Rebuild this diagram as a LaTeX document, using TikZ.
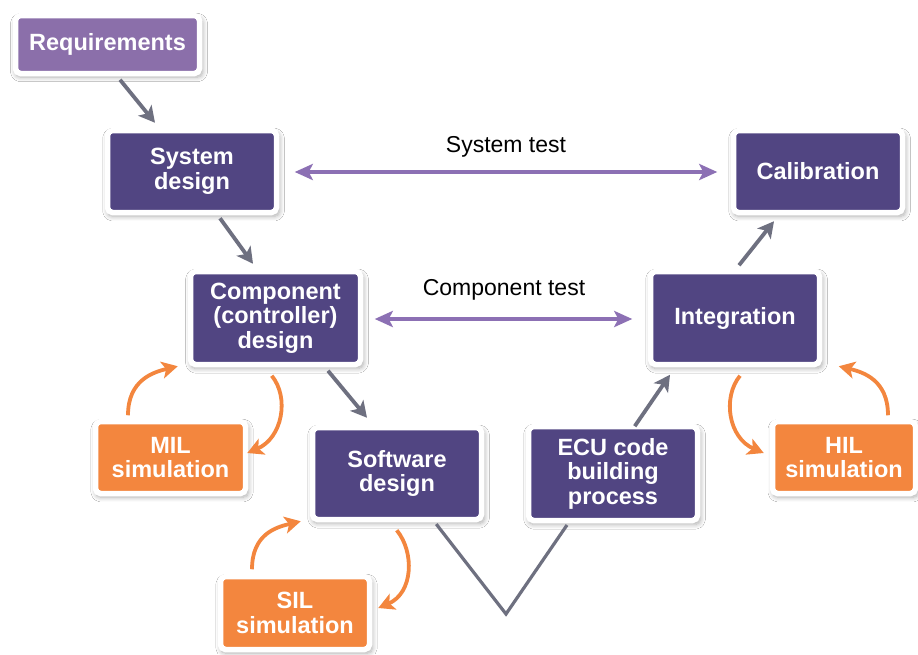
\documentclass[tikz,border=0pt]{standalone}
\usepackage{fontspec}
\setmainfont{Liberation Sans}
\usetikzlibrary{arrows.meta,calc,shadows.blur}
\definecolor{darkp}{RGB}{81,69,130}
\definecolor{lightp}{RGB}{139,111,170}
\definecolor{orng}{RGB}{243,134,62}
\definecolor{grayarr}{RGB}{110,112,128}
\definecolor{testp}{RGB}{140,112,180}
\tikzset{
  box/.style={draw=white, line width=5.5pt, rounded corners=5pt, inner sep=0pt,
    align=center, text=white, font=\fontsize{23.5}{24.5}\selectfont\bfseries,
    blur shadow={shadow xshift=1.5pt, shadow yshift=-3pt, shadow blur radius=4.5pt, shadow blur extra rounding=3pt, shadow blur steps=8, shadow opacity=32, shadow scale=1.02}},
  stagebox/.style={box, fill=darkp},
  reqbox/.style={box, fill=lightp},
  simbox/.style={box, fill=orng},
  flowarrow/.style={draw=grayarr, line width=3.8pt, -{Stealth[length=16pt,width=17pt,inset=4pt]}},
  vline/.style={draw=grayarr, line width=3.2pt, line join=miter},
  testarrow/.style={draw=testp, line width=3.8pt, {Stealth[length=18pt,width=16pt,inset=4pt]}-{Stealth[length=18pt,width=16pt,inset=4pt]}},
  simarrow/.style={draw=orng, line width=3.8pt, -{Stealth[length=16pt,width=17pt,inset=4pt]}},
  lbl/.style={font=\fontsize{23}{24}\selectfont, text=black, inner sep=0pt}
}
\begin{document}
\begin{tikzpicture}[x=1pt,y=-1pt]
\fill[white] (0,0) rectangle (918,654);
\useasboundingbox (0,0) rectangle (918,654);
% nodes
\node[reqbox, minimum width=184pt, minimum height=58pt] (req) at (107.5,44.5) {Requirements};
\node[stagebox, minimum width=169pt, minimum height=82pt] (sys) at (192,171.5) {System\\design};
\node[stagebox, minimum width=170pt, minimum height=93pt] (comp) at (275.5,318) {Component\\(controller)\\design};
\node[simbox, minimum width=150pt, minimum height=72pt] (mil) at (170.5,457.5) {MIL\\simulation};
\node[stagebox, minimum width=169pt, minimum height=92pt] (sw) at (397,473.5) {Software\\design};
\node[simbox, minimum width=149pt, minimum height=73pt] (sil) at (295,613) {SIL\\simulation};
\node[stagebox, minimum width=169pt, minimum height=94pt] (ecu) at (613,473.5) {ECU code\\building\\process};
\node[stagebox, minimum width=169pt, minimum height=93pt] (integ) at (735,318) {Integration};
\node[simbox, minimum width=143pt, minimum height=72pt] (hil) at (844,457.5) {HIL\\simulation};
\node[stagebox, minimum width=169pt, minimum height=82pt] (calib) at (818,171.5) {Calibration};
% labels
\node[lbl] (stlbl) at (506,147) {System test};
\node[lbl] (ctlbl) at (504,290) {Component test};
% V line (visible parts)
\coordinate (vbot) at (506,614);
\coordinate (vend) at ($(integ.south)+(-65,7.5)$);
\draw[vline] ($(vbot)!0.64!(sw.center)$) -- (vbot) -- ($(vbot)!0.372!(vend)$);
\draw[flowarrow] ($(vbot)!0.785!(vend)$) -- (vend);
% flow arrows
\draw[flowarrow] ($(req.south)+(12.5,3.5)$) -- ($(sys.north)+(-37,-5)$);
\draw[flowarrow] ($(sys.south)+(28,3)$) -- ($(comp.north)+(-22.5,-5)$);
\draw[flowarrow] ($(comp.south)+(52.5,3.5)$) -- ($(sw.north)+(-30,-7)$);
\draw[flowarrow] ($(integ.north)+(4,-3.5)$) -- ($(calib.south)+(-44,6)$);
% test arrows
\draw[testarrow] ($(sys.east)+(15.5,0.5)$) -- ($(calib.west)+(-13.5,0.5)$);
\draw[testarrow] ($(comp.east)+(11.5,1)$) -- ($(integ.west)+(-15.5,1)$);
% simulation loops
\coordinate (m1) at ($(mil.north)+(-42.5,-3.5)$);
\coordinate (m2) at ($(comp.south west)+(-10,-1)$);
\draw[simarrow] (m1) .. controls ($(m1)+(0,-35)$) and ($(m2)+(-25,6)$) .. (m2);
\coordinate (m3) at ($(comp.south west)+(84,8.5)$);
\coordinate (m4) at ($(mil.east)+(-1,-4.5)$);
\draw[simarrow] (m3) .. controls ($(m3)+(18,22)$) and ($(m4)+(35,-15)$) .. (m4);
\coordinate (s1) at ($(sil.north)+(-43,-4.5)$);
\coordinate (s2) at ($(sw.south west)+(-9,-1)$);
\draw[simarrow] (s1) .. controls ($(s1)+(0,-35)$) and ($(s2)+(-25,6)$) .. (s2);
\coordinate (s3) at ($(sw.south west)+(87,8)$);
\coordinate (s4) at ($(sil.east)+(6,-5)$);
\draw[simarrow] (s3) .. controls ($(s3)+(18,22)$) and ($(s4)+(35,-15)$) .. (s4);
\coordinate (h1) at ($(integ.south)+(5,8.5)$);
\coordinate (h2) at ($(hil.west)+(-6,-4.5)$);
\draw[simarrow] (h1) .. controls ($(h1)+(-18,22)$) and ($(h2)+(-35,-15)$) .. (h2);
\coordinate (h3) at ($(hil.north)+(44,-3.5)$);
\coordinate (h4) at ($(integ.south east)+(16.5,-1)$);
\draw[simarrow] (h3) .. controls ($(h3)+(0,-35)$) and ($(h4)+(25,6)$) .. (h4);
\end{tikzpicture}
\end{document}
